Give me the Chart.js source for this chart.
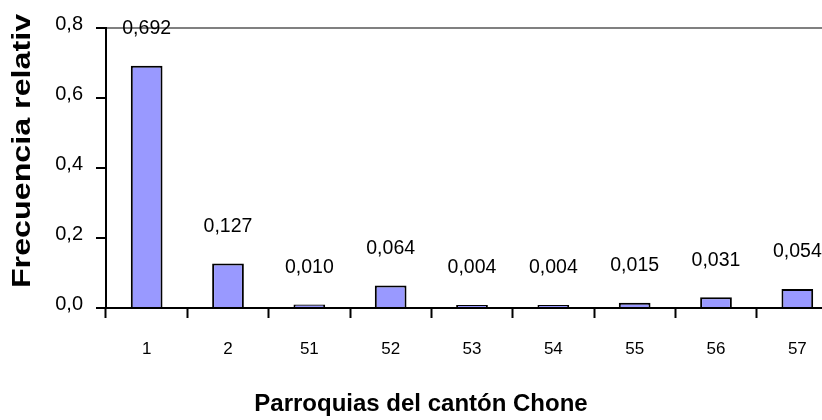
<!DOCTYPE html>
<html>
<head>
<meta charset="utf-8">
<script src="https://cdn.jsdelivr.net/npm/chart.js@4/dist/chart.umd.min.js"></script>
<style>
  html, body { margin: 0; padding: 0; background: #fff; overflow: hidden; }
  #wrap { width: 838px; height: 420px; }
</style>
</head>
<body>
<div id="wrap"><canvas id="c" width="838" height="420"></canvas></div>
<script>
const categories = ['1', '2', '51', '52', '53', '54', '55', '56', '57'];
const frequencies = [0.692, 0.127, 0.010, 0.064, 0.004, 0.004, 0.015, 0.031, 0.054];
const dataLabels = ['0,692', '0,127', '0,010', '0,064', '0,004', '0,004', '0,015', '0,031', '0,054'];
const yTicks = [0, 0.2, 0.4, 0.6, 0.8];
const xTitle = 'Parroquias del cantón Chone';
const yTitle = 'Frecuencia relativ';

const FONT = 'Liberation Sans, Arial, Helvetica, sans-serif';

const labelPlugin = {
  id: 'valueLabels',
  afterDatasetsDraw(chart) {
    const ctx = chart.ctx;
    const meta = chart.getDatasetMeta(0);
    ctx.save();
    ctx.font = '19.5px ' + FONT;
    ctx.fillStyle = '#000';
    ctx.textAlign = 'center';
    ctx.textBaseline = 'middle';
    meta.data.forEach((bar, i) => {
      ctx.fillText(dataLabels[i], bar.x, bar.y - 37);
    });
    ctx.restore();
  }
};

// Axis titles, placed like the original (x title left of plot centre, y title stretched along its length)
const titlePlugin = {
  id: 'axisTitles',
  afterDraw(chart) {
    const ctx = chart.ctx;
    const area = chart.chartArea;
    ctx.save();
    ctx.fillStyle = '#000';
    ctx.textAlign = 'center';
    ctx.textBaseline = 'middle';
    ctx.font = 'bold 24px ' + FONT;
    ctx.fillText(xTitle, area.left + 315, 404);
    ctx.translate(23, (area.top + area.bottom) / 2 - 17);
    ctx.rotate(-Math.PI / 2);
    ctx.scale(1.24, 1);
    ctx.font = 'bold 26px ' + FONT;
    ctx.fillText(yTitle, 0, 0);
    ctx.restore();
  }
};

new Chart(document.getElementById('c'), {
  type: 'bar',
  data: {
    labels: categories,
    datasets: [{
      data: frequencies,
      backgroundColor: '#9999FF',
      borderColor: '#000000',
      borderWidth: 2,
      minBarLength: 3,
      barPercentage: 0.39,
      categoryPercentage: 1.0
    }]
  },
  options: {
    responsive: false,
    animation: false,
    devicePixelRatio: 1,
    layout: { padding: { top: 28, left: 0, right: 0, bottom: 0 } },
    plugins: {
      legend: { display: false },
      tooltip: { enabled: false }
    },
    scales: {
      x: {
        grid: {
          offset: true,
          drawOnChartArea: false,
          drawTicks: true,
          tickLength: 10,
          tickColor: '#000',
          tickWidth: 2
        },
        border: { display: true, color: '#000', width: 2 },
        ticks: {
          color: '#000',
          font: { family: FONT, size: 17 },
          padding: 21,
          maxRotation: 0
        },
        title: { display: false },
        afterFit(scale) { scale.height = 112; }
      },
      y: {
        min: 0,
        max: 0.8,
        afterBuildTicks(scale) { scale.ticks = yTicks.map(v => ({ value: v })); },
        grid: {
          drawOnChartArea: true,
          color: (c) => (c.tick && Math.abs(c.tick.value - 0.8) < 1e-9) ? '#808080' : 'rgba(0,0,0,0)',
          lineWidth: 2,
          drawTicks: true,
          tickLength: 10,
          tickColor: '#000',
          tickWidth: 2
        },
        border: { display: true, color: '#000', width: 2 },
        ticks: {
          color: '#000',
          font: { family: FONT, size: 20 },
          padding: 13,
          labelOffset: -4,
          callback: (v) => Number(v).toFixed(1).replace('.', ',')
        },
        title: { display: false },
        afterFit(scale) { scale.width = 106; }
      }
    }
  },
  plugins: [labelPlugin, titlePlugin]
});
</script>
</body>
</html>
